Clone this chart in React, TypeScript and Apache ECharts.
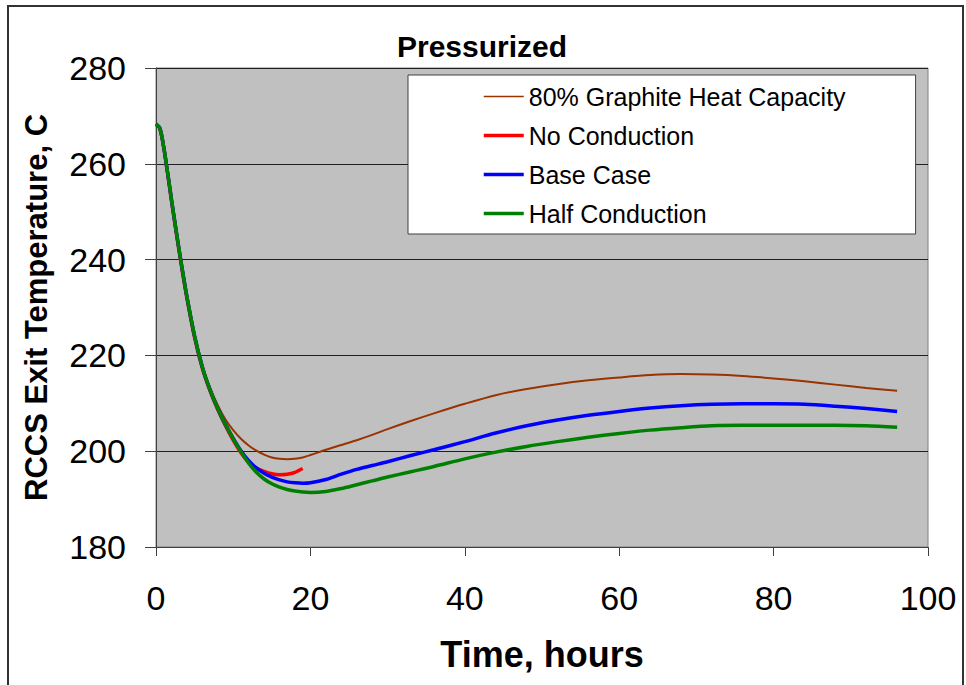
import React, { useEffect, useRef } from "react";
import * as echarts from "echarts";

const timeHours = [0, 0.5, 1, 1.5, 2, 2.5, 3, 3.5, 4, 5, 6, 7, 8, 9, 10, 11, 12, 13, 14, 15, 16, 17, 18, 19, 20, 22, 24, 26, 28, 30, 33, 36, 40, 44, 48, 52, 56, 60, 64, 68, 72, 76, 80, 84, 88, 92, 96];

const graphite80 = [268.3, 267.4, 263.5, 258.2, 252.6, 247.2, 242.0, 237.0, 232.3, 224.0, 217.8, 213.3, 209.6, 206.6, 204.4, 202.6, 201.2, 200.1, 199.3, 198.7, 198.4, 198.3, 198.4, 198.7, 199.2, 200.3, 201.3, 202.3, 203.4, 204.6, 206.3, 207.9, 209.9, 211.7, 213.0, 214.0, 214.8, 215.4, 215.9, 216.1, 216.0, 215.7, 215.2, 214.6, 213.9, 213.2, 212.6];

const noConduction = [268.3, 267.4, 263.4, 258.0, 252.3, 246.9, 241.7, 236.7, 232.0, 223.7, 217.3, 212.6, 208.7, 205.3, 202.3, 199.7, 197.7, 196.5, 195.8, 195.3, 195.1, 195.2, 195.6, 196.4];

const baseCase = [268.3, 267.4, 263.5, 258.2, 252.6, 247.2, 242.0, 237.0, 232.3, 224.0, 217.6, 212.8, 208.9, 205.6, 202.7, 200.1, 198.0, 196.5, 195.4, 194.6, 194.0, 193.6, 193.4, 193.3, 193.4, 194.1, 195.2, 196.2, 197.0, 197.8, 199.1, 200.3, 202.0, 203.8, 205.3, 206.5, 207.5, 208.3, 209.0, 209.5, 209.8, 209.9, 209.9, 209.8, 209.4, 208.9, 208.3];

const halfConduction = [268.3, 267.4, 263.5, 258.2, 252.6, 247.2, 242.0, 237.0, 232.3, 224.0, 217.6, 212.8, 208.9, 205.6, 202.6, 199.9, 197.5, 195.6, 194.2, 193.2, 192.5, 192.0, 191.7, 191.5, 191.4, 191.6, 192.2, 193.0, 193.8, 194.6, 195.7, 196.8, 198.4, 199.8, 201.0, 202.0, 202.9, 203.7, 204.4, 204.9, 205.3, 205.4, 205.4, 205.4, 205.4, 205.3, 205.0];

const seriesNames = ["80% Graphite Heat Capacity", "No Conduction", "Base Case", "Half Conduction"];
const seriesColors = ["#993300", "#FF0000", "#0000FF", "#008000"];
const seriesValues = [graphite80, noConduction, baseCase, halfConduction];
const seriesWidths = [2, 3.5, 3.5, 3.5];

const FONT = "'Liberation Sans', Arial, sans-serif";

export default function App() {
  const ref = useRef<HTMLDivElement>(null);
  useEffect(() => {
    if (!ref.current) return;
    const chart = echarts.init(ref.current, undefined, { renderer: "svg" });
    const series = seriesValues.map((vals, i) => ({
      name: seriesNames[i],
      type: "line",
      data: vals.map((v, k) => [timeHours[k], v]),
      symbol: "none",
      showSymbol: false,
      smooth: 0.3,
      lineStyle: { color: seriesColors[i], width: seriesWidths[i] },
      itemStyle: { color: seriesColors[i] },
      z: 2 + i,
    }));
    chart.setOption({
      animation: false,
      backgroundColor: "#ffffff",
      textStyle: { fontFamily: FONT },
      graphic: [
        {
          type: "rect",
          shape: { x: 8, y: 6, width: 955, height: 700 },
          style: { fill: "none", stroke: "#333333", lineWidth: 2 },
          silent: true,
          z: -10,
        },
      ],
      title: {
        text: "Pressurized",
        left: 397,
        top: 31,
        padding: 0,
        textStyle: { fontSize: 30, fontWeight: "bold", color: "#000", fontFamily: FONT },
      },
      legend: {
        orient: "vertical",
        left: 408,
        top: 75,
        padding: [9, 70, 8, 74],
        backgroundColor: "#ffffff",
        borderColor: "#404040",
        borderWidth: 1,
        itemWidth: 40,
        itemHeight: 14,
        itemGap: 14,
        itemStyle: { opacity: 0 },
        textStyle: { fontSize: 25, color: "#000", fontFamily: FONT, lineHeight: 25 },
        data: seriesNames.map((n, i) => ({
          name: n,
          lineStyle: { color: seriesColors[i], width: i === 0 ? 1.5 : 3.5, opacity: 1 },
        })),
      },
      grid: {
        left: 156,
        top: 68,
        right: 38,
        bottom: 138,
        show: true,
        backgroundColor: "#C0C0C0",
        borderColor: "#808080",
        borderWidth: 1,
      },
      xAxis: {
        type: "value",
        min: 0,
        max: 100,
        interval: 20,
        name: "Time, hours",
        nameLocation: "middle",
        nameGap: 89,
        nameTextStyle: { fontSize: 36, fontWeight: "bold", color: "#000", fontFamily: FONT },
        axisLine: { show: true, onZero: false, lineStyle: { color: "#404040", width: 1 } },
        axisTick: { show: true, length: 9, lineStyle: { color: "#404040" } },
        axisLabel: { fontSize: 34, color: "#000", margin: 34, fontFamily: FONT },
        splitLine: { show: false },
      },
      yAxis: {
        type: "value",
        min: 180,
        max: 280,
        interval: 20,
        name: "RCCS Exit Temperature, C",
        nameLocation: "middle",
        nameGap: 104,
        nameTextStyle: { fontSize: 31, fontWeight: "bold", color: "#000", fontFamily: FONT },
        axisLine: { show: true, onZero: false, lineStyle: { color: "#404040", width: 1 } },
        axisTick: { show: true, length: 11, lineStyle: { color: "#404040" } },
        axisLabel: { fontSize: 34, color: "#000", margin: 30, fontFamily: FONT },
        splitLine: { show: true, lineStyle: { color: "#202020", width: 1 } },
      },
      series,
    });
    return () => chart.dispose();
  }, []);
  return (
    <div
      ref={ref}
      style={{ position: "fixed", left: 0, top: 0, width: 966, height: 685 }}
    />
  );
}
